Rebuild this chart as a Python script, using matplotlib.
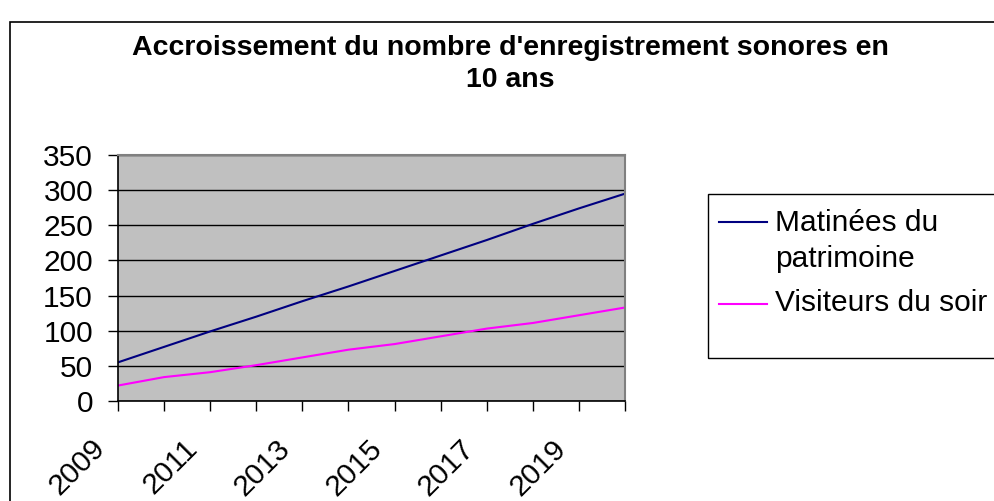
import matplotlib.pyplot as plt
import numpy as np
from matplotlib.patches import Rectangle
from matplotlib.lines import Line2D
from matplotlib.transforms import ScaledTranslation

plt.rcParams['font.family'] = ['Liberation Sans', 'DejaVu Sans']

# données
annees = list(range(2009, 2021))
matinees = [55, 77, 99, 120, 142, 163, 185, 207, 229, 252, 274, 295]
visiteurs = [22, 34, 41, 51, 62, 73, 81, 92, 103, 111, 122, 133]
series_noms = ["Matinées du\npatrimoine", "Visiteurs du soir"]
titre = "Accroissement du nombre d'enregistrement sonores en\n10 ans"

W, H = 995, 501
fig = plt.figure(figsize=(W / 100, H / 100), dpi=100)

def fx(px):
    return px / W

def fy(py):
    return 1 - py / H

# cadre extérieur du graphique
fig.patches.append(Rectangle((fx(10), -0.1), 1.2, fy(22) + 0.1, transform=fig.transFigure,
                             fill=False, edgecolor='black', linewidth=1.2))

ax = fig.add_axes([fx(118), fy(401), fx(625) - fx(118), fy(155) - fy(401)])
ax.set_facecolor('#C0C0C0')

x = np.arange(len(annees))
l1, = ax.plot(x, matinees, color='#000080', linewidth=1.5)
l2, = ax.plot(x, visiteurs, color='#FF00FF', linewidth=1.5)

ax.set_xlim(0, len(annees) - 1)
ax.set_ylim(0, 350)
ax.set_yticks(range(0, 351, 50))
ax.yaxis.grid(True, color='black', linewidth=1)
ax.set_axisbelow(True)

# étiquettes des années une sur deux, placées à la main comme dans Excel
ax.set_xticks(x)
ax.set_xticklabels([])
decalage = ScaledTranslation(-0.17, -0.43, fig.dpi_scale_trans)
for i, a in enumerate(annees):
    if i % 2 == 0:
        ax.text(i, 0, str(a), transform=ax.get_xaxis_transform() + decalage,
                rotation=45, ha='right', va='center', rotation_mode='anchor',
                fontsize=21.5, clip_on=False)

ax.tick_params(axis='both', direction='out', length=7, width=1, labelsize=21.5, colors='black')
ax.tick_params(axis='y', pad=11)

for s in ['left', 'bottom']:
    ax.spines[s].set_color('black')
    ax.spines[s].set_linewidth(1.2)
for s in ['top', 'right']:
    ax.spines[s].set_color('#808080')
    ax.spines[s].set_linewidth(1.5)

fig.text(fx(510), fy(64), titre, ha='center', va='center', fontsize=20.5,
         fontweight='bold', linespacing=1.3)

# légende
fig.patches.append(Rectangle((fx(708), fy(358)), 0.5, fy(194) - fy(358), transform=fig.transFigure,
                             fill=False, edgecolor='black', linewidth=1))
fig.lines.append(Line2D([fx(719), fx(767)], [fy(222), fy(222)], transform=fig.transFigure,
                        color=l1.get_color(), linewidth=1.5))
fig.lines.append(Line2D([fx(719), fx(767)], [fy(304), fy(304)], transform=fig.transFigure,
                        color=l2.get_color(), linewidth=1.5))
for ligne, base in zip(series_noms[0].split('\n'), [231, 267]):
    fig.text(fx(775), fy(base), ligne, ha='left', va='baseline', fontsize=21.5)
fig.text(fx(775), fy(311), series_noms[1], ha='left', va='baseline', fontsize=21.5)

fig.savefig('out.png', dpi=100)
